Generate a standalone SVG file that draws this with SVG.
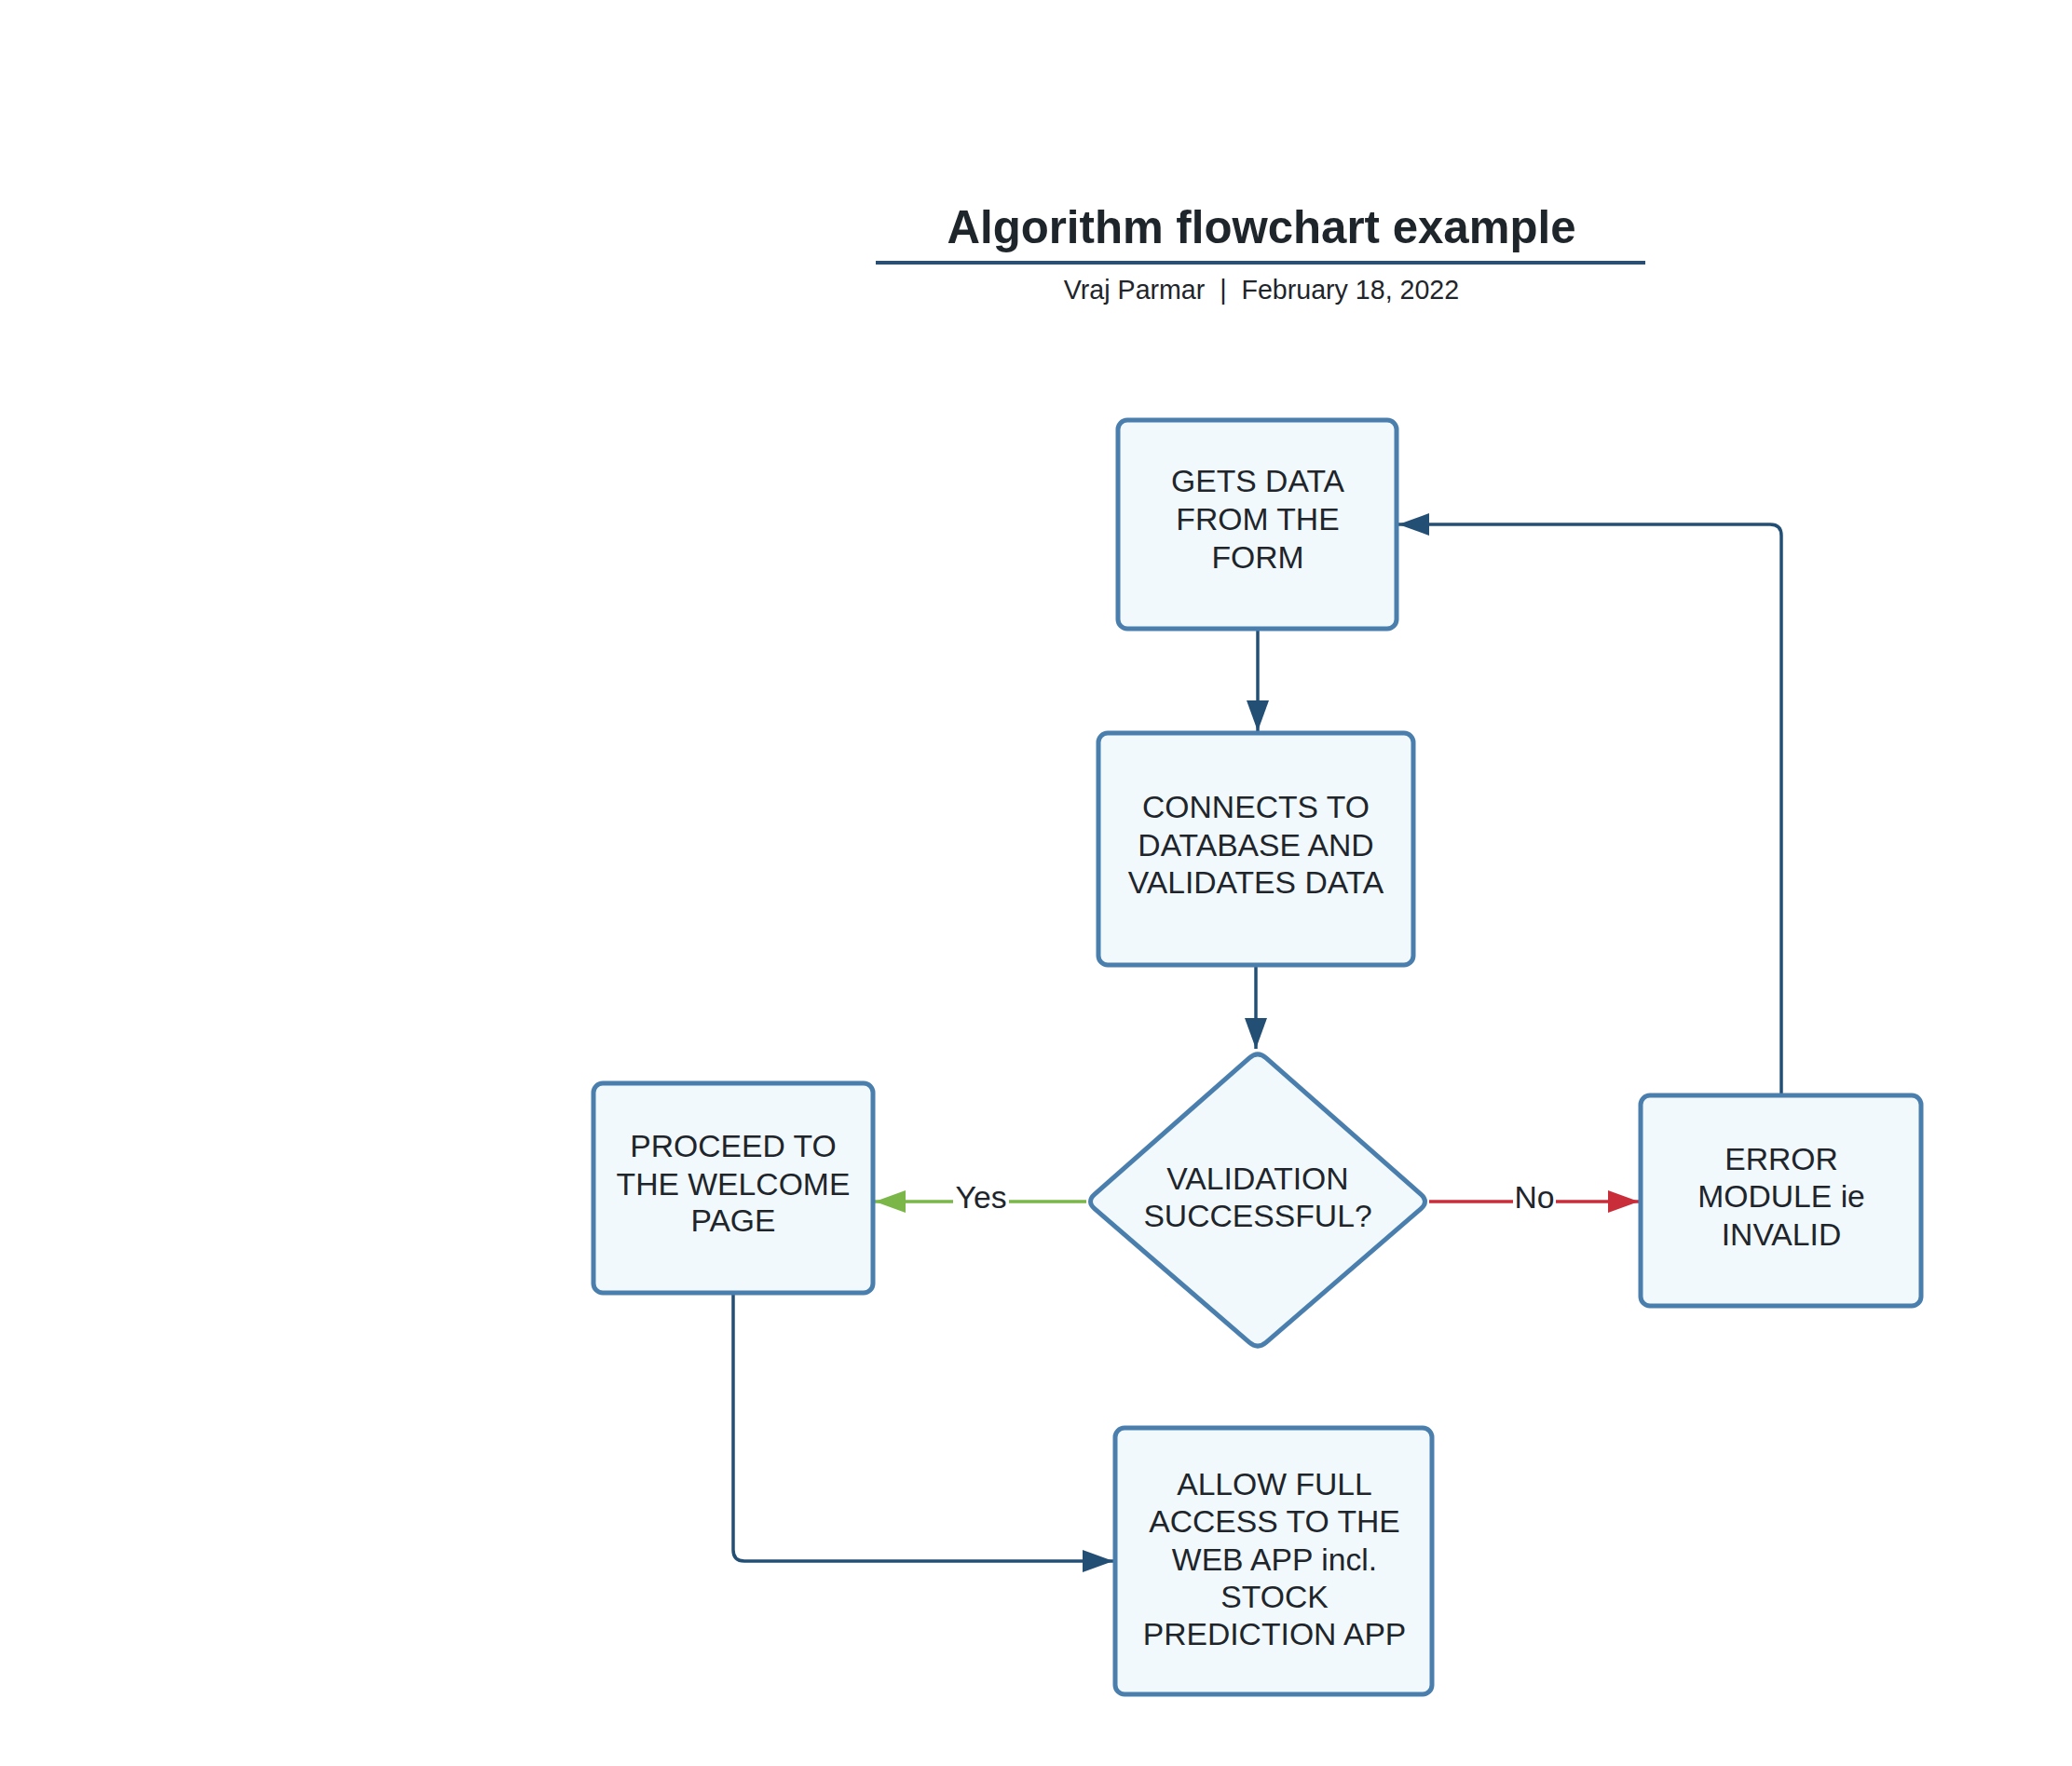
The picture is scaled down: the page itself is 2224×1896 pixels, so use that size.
<svg xmlns="http://www.w3.org/2000/svg" width="2224" height="1896" viewBox="0 0 2224 1896">
<defs>
<style>
.node{fill:#f2f9fd;stroke:#4a7fad;stroke-width:5;stroke-linejoin:round}
.t{font-family:"Liberation Sans",Arial,sans-serif;font-size:33.7px;fill:#1e252b;text-anchor:middle}
.lbl{font-family:"Liberation Sans",Arial,sans-serif;font-size:33.7px;fill:#1e252b;text-anchor:middle}
.c{fill:none;stroke:#244f75;stroke-width:3.5;stroke-linejoin:round}
.g{fill:none;stroke:#7ab648;stroke-width:3.5}
.r{fill:none;stroke:#c92d39;stroke-width:3.5}
</style>
<marker id="ab" markerUnits="userSpaceOnUse" viewBox="0 0 33 24" refX="33" refY="12" markerWidth="33" markerHeight="24" orient="auto"><path d="M0,0 L33,12 L0,24 z" fill="#244f75"/></marker>
<marker id="ag" markerUnits="userSpaceOnUse" viewBox="0 0 33 24" refX="33" refY="12" markerWidth="33" markerHeight="24" orient="auto"><path d="M0,0 L33,12 L0,24 z" fill="#7ab648"/></marker>
<marker id="ar" markerUnits="userSpaceOnUse" viewBox="0 0 33 24" refX="33" refY="12" markerWidth="33" markerHeight="24" orient="auto"><path d="M0,0 L33,12 L0,24 z" fill="#c92d39"/></marker>
</defs>
<rect width="2224" height="1896" fill="#ffffff"/>
<g id="title">
<text x="1354" y="261" font-family="Liberation Sans,Arial,sans-serif" font-weight="bold" font-size="49.2" fill="#1e252b" text-anchor="middle">Algorithm flowchart example</text>
<line x1="940" y1="282" x2="1766" y2="282" stroke="#2b4f72" stroke-width="4"/>
<text x="1354" y="321" font-family="Liberation Sans,Arial,sans-serif" font-size="28.6" fill="#1e252b" text-anchor="middle">Vraj Parmar &#160;|&#160; February 18, 2022</text>
</g>
<g id="connectors">
<path class="c" d="M1350 675 V785" marker-end="url(#ab)"/>
<path class="c" d="M1348 1036 V1126" marker-end="url(#ab)"/>
<path class="c" d="M1912 1176 V575 Q1912 563 1900 563 H1501" marker-end="url(#ab)"/>
<path class="c" d="M787 1388 V1664 Q787 1676 799 1676 H1195" marker-end="url(#ab)"/>
<path class="g" d="M1166 1290 H1083"/>
<path class="g" d="M1023 1290 H939" marker-end="url(#ag)"/>
<path class="r" d="M1534 1290 H1624"/>
<path class="r" d="M1670 1290 H1759" marker-end="url(#ar)"/>
<text class="lbl" x="1053" y="1297">Yes</text>
<text class="lbl" x="1647" y="1297">No</text>
</g>
<g id="n1">
<rect class="node" x="1200" y="451" width="299" height="224" rx="10"/>
<text class="t" x="1350" y="528">GETS DATA</text>
<text class="t" x="1350" y="569">FROM THE</text>
<text class="t" x="1350" y="610">FORM</text>
</g>
<g id="n2">
<rect class="node" x="1179" y="787" width="338" height="249" rx="10"/>
<text class="t" x="1348" y="878">CONNECTS TO</text>
<text class="t" x="1348" y="919">DATABASE AND</text>
<text class="t" x="1348" y="959">VALIDATES DATA</text>
</g>
<g id="n3">
<path class="node" d="M1341 1135.9 Q1350 1128 1359 1135.9 L1525 1282.1 Q1534 1290 1525 1297.9 L1359.1 1441.2 Q1350 1449 1340.9 1441.2 L1175.1 1297.9 Q1166 1290 1175 1282.1 Z"/>
<text class="t" x="1350" y="1277">VALIDATION</text>
<text class="t" x="1350" y="1317">SUCCESSFUL?</text>
</g>
<g id="n4">
<rect class="node" x="637" y="1163" width="300" height="225" rx="10"/>
<text class="t" x="787" y="1242">PROCEED TO</text>
<text class="t" x="787" y="1283">THE WELCOME</text>
<text class="t" x="787" y="1322">PAGE</text>
</g>
<g id="n5">
<rect class="node" x="1761" y="1176" width="301" height="226" rx="10"/>
<text class="t" x="1912" y="1256">ERROR</text>
<text class="t" x="1912" y="1296">MODULE ie</text>
<text class="t" x="1912" y="1337">INVALID</text>
</g>
<g id="n6">
<rect class="node" x="1197" y="1533" width="340" height="286" rx="10"/>
<text class="t" x="1368" y="1605">ALLOW FULL</text>
<text class="t" x="1368" y="1645">ACCESS TO THE</text>
<text class="t" x="1368" y="1686">WEB APP incl.</text>
<text class="t" x="1368" y="1726">STOCK</text>
<text class="t" x="1368" y="1766">PREDICTION APP</text>
</g>
</svg>
